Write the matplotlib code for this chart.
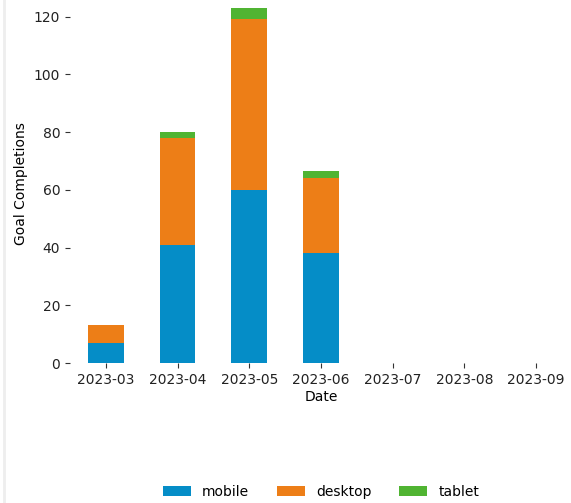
import matplotlib
matplotlib.use("Agg")
import matplotlib.pyplot as plt
import numpy as np
from matplotlib.lines import Line2D

# =========================
# DATA
# =========================
months = ["2023-03", "2023-04", "2023-05", "2023-06", "2023-07", "2023-08", "2023-09"]
mobile = [7, 41, 60, 38, 0, 0, 0]
desktop = [6, 37, 59, 26, 0, 0, 0]
tablet = [0, 2, 4, 2.5, 0, 0, 0]

series_names = ["mobile", "desktop", "tablet"]
colors = ["#058DC7", "#ED7E17", "#50B432"]

# =========================
# PLOT
# =========================
plt.rcParams["font.family"] = "DejaVu Sans"
plt.rcParams["font.size"] = 10

fig = plt.figure(figsize=(5.71, 5.03), dpi=100)
ax = fig.add_axes([0.1226, 0.2783, 0.879, 0.7117])

x = np.arange(len(months))
bottom = np.zeros(len(months))
for name, vals, c in zip(series_names, [mobile, desktop, tablet], colors):
    ax.bar(x, vals, width=0.5, bottom=bottom, color=c, label=name)
    bottom += np.array(vals)

ax.set_xticks(x)
ax.set_xticklabels(months)
ax.set_xlim(-0.5, len(months) - 0.5)
ax.set_ylim(0, 124)
ax.set_yticks([0, 20, 40, 60, 80, 100, 120])
ax.set_xlabel("Date", labelpad=2)
ax.set_ylabel("Goal Completions")

for s in ax.spines.values():
    s.set_visible(False)
ax.tick_params(length=3.5, color="#333333", labelcolor="#222222")

# legend centred under the axes, not the figure
fig.legend(loc="lower center", bbox_to_anchor=(0.5625, -0.016), ncol=3, frameon=False,
           columnspacing=2.0, handlelength=2.0)

# faint page border at left edge
fig.add_artist(Line2D([0.007, 0.007], [0, 1], transform=fig.transFigure,
                      color="#eeeeee", linewidth=2))

fig.savefig("out.png", dpi=100)
plt.close()
